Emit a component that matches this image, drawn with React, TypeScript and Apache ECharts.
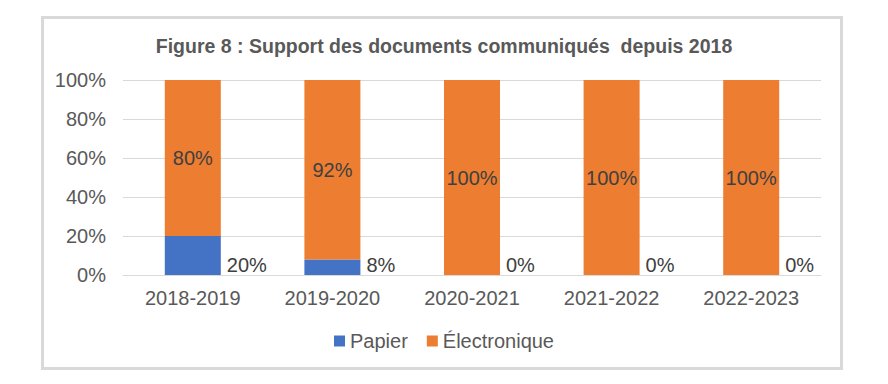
import React, { useEffect, useRef } from "react";
import * as echarts from "echarts";

const categories = ["2018-2019", "2019-2020", "2020-2021", "2021-2022", "2022-2023"];
const papier = [20, 8, 0, 0, 0];
const electronique = [80, 92, 100, 100, 100];
const yTicks = { min: 0, max: 100, interval: 20 };

const FONT = "'Liberation Sans', Arial, sans-serif";

export default function App() {
  const ref = useRef<HTMLDivElement>(null);
  useEffect(() => {
    if (!ref.current) return;
    const chart = echarts.init(ref.current, undefined, { renderer: "svg" });
    chart.setOption({
      animation: false,
      textStyle: { fontFamily: FONT },
      title: {
        text: "Figure 8 : Support des documents communiqués  depuis 2018",
        left: "center",
        top: 31,
        textStyle: { fontFamily: FONT, fontSize: 19.5, fontWeight: "bold", color: "#595959" },
      },
      graphic: [
        {
          type: "rect",
          shape: { x: 42.5, y: 17.5, width: 799, height: 351 },
          style: { fill: "none", stroke: "#d9d9d9", lineWidth: 3 },
          silent: true,
        },
      ],
      legend: {
        data: ["Papier", "Électronique"],
        top: 326,
        left: "center",
        itemWidth: 11,
        itemHeight: 11,
        itemGap: 19,
        icon: "rect",
        textStyle: { fontFamily: FONT, fontSize: 20, color: "#595959" },
      },
      grid: { left: 123, right: 67, top: 80, bottom: 109 },
      xAxis: {
        type: "category",
        data: categories,
        axisLine: { lineStyle: { color: "#d9d9d9" } },
        axisTick: { show: false },
        axisLabel: { fontFamily: FONT, fontSize: 20, color: "#595959", margin: 13 },
      },
      yAxis: {
        type: "value",
        min: yTicks.min,
        max: yTicks.max,
        interval: yTicks.interval,
        axisLine: { show: false },
        axisTick: { show: false },
        splitLine: { lineStyle: { color: "#d9d9d9" } },
        axisLabel: { fontFamily: FONT, fontSize: 20, color: "#595959", margin: 17, formatter: "{value}%" },
      },
      series: [
        {
          name: "Papier",
          type: "bar",
          stack: "total",
          data: papier,
          barWidth: 56,
          itemStyle: { color: "#4472c4" },
          label: {
            show: true,
            position: ["100%", "100%"],
            align: "left",
            verticalAlign: "bottom",
            offset: [6, 0],
            formatter: "{c}%",
            fontFamily: FONT,
            fontSize: 20,
            color: "#404040",
          },
        },
        {
          name: "Électronique",
          type: "bar",
          stack: "total",
          data: electronique,
          barWidth: 56,
          itemStyle: { color: "#ed7d31" },
          label: {
            show: true,
            position: "inside",
            formatter: "{c}%",
            fontFamily: FONT,
            fontSize: 20,
            color: "#404040",
          },
        },
      ],
    });
    return () => chart.dispose();
  }, []);
  return (
    <div
      ref={ref}
      style={{ position: "absolute", left: 0, top: 0, width: 888, height: 384, background: "#fff" }}
    />
  );
}
